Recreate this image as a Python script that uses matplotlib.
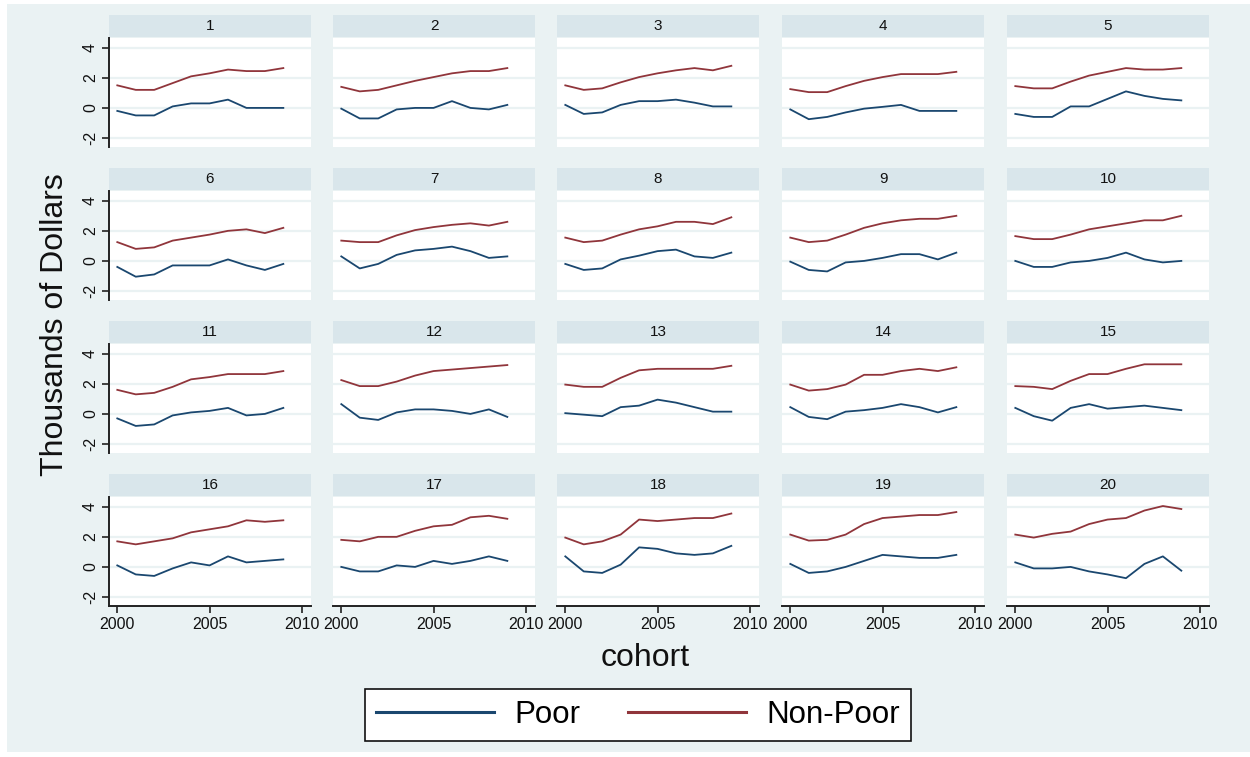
import matplotlib
matplotlib.use('Agg')
import matplotlib.pyplot as plt
import matplotlib.patches as mpatches

plt.rcParams['font.family'] = ['Liberation Sans', 'DejaVu Sans']

years = [2000, 2001, 2002, 2003, 2004, 2005, 2006, 2007, 2008, 2009]
panel_labels = [str(i) for i in range(1, 21)]

# Mean values (thousands of dollars) by cohort, one row per group panel
poor_values = [
    [-0.2, -0.5, -0.5, 0.1, 0.3, 0.3, 0.55, 0.0, 0.0, 0.0],
    [-0.05, -0.7, -0.7, -0.1, 0.0, 0.0, 0.45, 0.0, -0.1, 0.2],
    [0.2, -0.4, -0.3, 0.2, 0.45, 0.45, 0.55, 0.35, 0.1, 0.1],
    [-0.1, -0.75, -0.6, -0.3, -0.05, 0.07, 0.2, -0.2, -0.2, -0.2],
    [-0.4, -0.6, -0.6, 0.1, 0.1, 0.6, 1.1, 0.8, 0.6, 0.5],
    [-0.4, -1.05, -0.9, -0.3, -0.3, -0.3, 0.1, -0.3, -0.6, -0.2],
    [0.3, -0.5, -0.2, 0.4, 0.7, 0.8, 0.95, 0.65, 0.2, 0.3],
    [-0.2, -0.6, -0.5, 0.1, 0.35, 0.65, 0.75, 0.3, 0.2, 0.55],
    [-0.05, -0.6, -0.7, -0.1, 0.0, 0.2, 0.45, 0.45, 0.1, 0.55],
    [0.0, -0.4, -0.4, -0.1, 0.0, 0.2, 0.55, 0.1, -0.1, 0.0],
    [-0.3, -0.8, -0.7, -0.1, 0.1, 0.2, 0.4, -0.1, 0.0, 0.4],
    [0.65, -0.25, -0.4, 0.1, 0.3, 0.3, 0.2, 0.0, 0.3, -0.2],
    [0.05, -0.05, -0.15, 0.45, 0.55, 0.95, 0.75, 0.45, 0.15, 0.15],
    [0.45, -0.2, -0.35, 0.15, 0.25, 0.4, 0.65, 0.45, 0.1, 0.45],
    [0.4, -0.15, -0.45, 0.4, 0.65, 0.35, 0.45, 0.55, 0.4, 0.25],
    [0.1, -0.5, -0.6, -0.1, 0.3, 0.1, 0.7, 0.3, 0.4, 0.5],
    [0.0, -0.3, -0.3, 0.1, 0.0, 0.4, 0.2, 0.4, 0.7, 0.4],
    [0.7, -0.3, -0.4, 0.15, 1.3, 1.2, 0.9, 0.8, 0.9, 1.4],
    [0.2, -0.4, -0.3, 0.0, 0.4, 0.8, 0.7, 0.6, 0.6, 0.8],
    [0.3, -0.1, -0.1, 0.0, -0.3, -0.5, -0.75, 0.2, 0.7, -0.25],
]

nonpoor_values = [
    [1.5, 1.2, 1.2, 1.65, 2.1, 2.3, 2.55, 2.45, 2.45, 2.65],
    [1.4, 1.1, 1.2, 1.5, 1.8, 2.05, 2.3, 2.45, 2.45, 2.65],
    [1.5, 1.2, 1.3, 1.7, 2.05, 2.3, 2.5, 2.65, 2.5, 2.8],
    [1.25, 1.05, 1.05, 1.45, 1.8, 2.05, 2.25, 2.25, 2.25, 2.4],
    [1.45, 1.3, 1.3, 1.75, 2.15, 2.4, 2.65, 2.55, 2.55, 2.65],
    [1.25, 0.8, 0.9, 1.35, 1.55, 1.75, 2.0, 2.1, 1.85, 2.2],
    [1.35, 1.25, 1.25, 1.7, 2.05, 2.25, 2.4, 2.5, 2.35, 2.6],
    [1.55, 1.25, 1.35, 1.75, 2.1, 2.3, 2.6, 2.6, 2.45, 2.9],
    [1.55, 1.25, 1.35, 1.75, 2.2, 2.5, 2.7, 2.8, 2.8, 3.0],
    [1.65, 1.45, 1.45, 1.75, 2.1, 2.3, 2.5, 2.7, 2.7, 3.0],
    [1.6, 1.3, 1.4, 1.8, 2.3, 2.45, 2.65, 2.65, 2.65, 2.85],
    [2.25, 1.85, 1.85, 2.15, 2.55, 2.85, 2.95, 3.05, 3.15, 3.25],
    [1.95, 1.8, 1.8, 2.4, 2.9, 3.0, 3.0, 3.0, 3.0, 3.2],
    [1.95, 1.55, 1.65, 1.95, 2.6, 2.6, 2.85, 3.0, 2.85, 3.1],
    [1.85, 1.8, 1.65, 2.2, 2.65, 2.65, 3.0, 3.3, 3.3, 3.3],
    [1.7, 1.5, 1.7, 1.9, 2.3, 2.5, 2.7, 3.1, 3.0, 3.1],
    [1.8, 1.7, 2.0, 2.0, 2.4, 2.7, 2.8, 3.3, 3.4, 3.2],
    [1.95, 1.5, 1.7, 2.15, 3.15, 3.05, 3.15, 3.25, 3.25, 3.55],
    [2.15, 1.75, 1.8, 2.15, 2.85, 3.25, 3.35, 3.45, 3.45, 3.65],
    [2.15, 1.95, 2.2, 2.35, 2.85, 3.15, 3.25, 3.75, 4.05, 3.85],
]

y_ticks = [-2, 0, 2, 4]
x_ticks = [2000, 2005, 2010]

POOR_COLOR = '#1a476f'
NONPOOR_COLOR = '#90353b'
BG = '#eaf2f3'
STRIP = '#d9e6eb'
GRID = '#eaf2f3'
INK = '#111111'

W, H = 1250, 757
fig = plt.figure(figsize=(W / 100, H / 100), dpi=100)
fig.patch.set_facecolor('white')


def box(x0, y0, x1, y1):
    # pixel box (top-left origin) -> figure fraction rect
    return [x0 / W, 1 - y1 / H, (x1 - x0) / W, (y1 - y0) / H]


# graph region behind all panels
fig.patches.append(mpatches.Rectangle((7 / W, 1 - 752 / H), 1 - 7 / W, (752 - 4) / H,
                                      transform=fig.transFigure, facecolor=BG,
                                      edgecolor='none', zorder=-10))

col_x = [109, 333, 557, 782, 1007]
row_y = [38, 191, 344, 497]
pw, ph = 202, 109
strip_h = 22

lines = []
for i in range(20):
    r, c = divmod(i, 5)
    x0, y0 = col_x[c], row_y[r]

    # title band above each panel
    sax = fig.add_axes(box(x0, y0 - strip_h - 1, x0 + pw, y0 - 1))
    sax.set_facecolor(STRIP)
    sax.set_xticks([])
    sax.set_yticks([])
    for s in sax.spines.values():
        s.set_visible(False)
    sax.text(0.5, 0.5, panel_labels[i], ha='center', va='center',
             fontsize=11, color=INK, transform=sax.transAxes)

    ax = fig.add_axes(box(x0, y0, x0 + pw, y0 + ph))
    ax.set_facecolor('white')
    ax.set_xlim(1999.55, 2010.5)
    ax.set_ylim(-2.6, 4.65)
    for yv in y_ticks:
        ax.axhline(yv, color=GRID, lw=1.6, zorder=1)
    lp, = ax.plot(years, poor_values[i], color=POOR_COLOR, lw=1.3, zorder=3)
    ln, = ax.plot(years, nonpoor_values[i], color=NONPOOR_COLOR, lw=1.3, zorder=3)
    if i == 0:
        lines = [lp, ln]

    for side in ('top', 'right'):
        ax.spines[side].set_visible(False)
    ax.spines['left'].set_visible(c == 0)
    ax.spines['bottom'].set_visible(r == 3)
    for side in ('left', 'bottom'):
        ax.spines[side].set_color('#222222')
        ax.spines[side].set_linewidth(1.4)

    if c == 0:
        ax.set_yticks(y_ticks)
        ax.set_yticklabels([str(v) for v in y_ticks], rotation=90, va='center')
        ax.tick_params(axis='y', length=5, width=1.2, color='#222222',
                       labelsize=11.5, pad=3, labelcolor=INK)
    else:
        ax.set_yticks([])
    if r == 3:
        ax.set_xticks(x_ticks)
        ax.tick_params(axis='x', length=5, width=1.2, color='#222222',
                       labelsize=11.5, pad=3, labelcolor=INK)
    else:
        ax.set_xticks([])

fig.text(55 / W, 1 - 325 / H, 'Thousands of Dollars', rotation=90,
         ha='center', va='center', fontsize=23, color=INK)
fig.text(645 / W, 1 - 658 / H, 'cohort', ha='center', va='center',
         fontsize=23, color=INK)

leg = fig.legend(lines, ['Poor', 'Non-Poor'], loc='center',
                 bbox_to_anchor=(638 / W, 1 - 715 / H), ncol=2,
                 fontsize=22.5, frameon=True, fancybox=False,
                 handlelength=3.8, handletextpad=0.65, columnspacing=1.5,
                 borderpad=0.35)
leg.get_frame().set_edgecolor(INK)
leg.get_frame().set_linewidth(1.2)
leg.get_frame().set_facecolor('white')
leg.get_frame().set_alpha(1)
for lh in leg.get_lines():
    lh.set_linewidth(2.2)

fig.savefig('out.png', dpi=100, facecolor=fig.get_facecolor())
